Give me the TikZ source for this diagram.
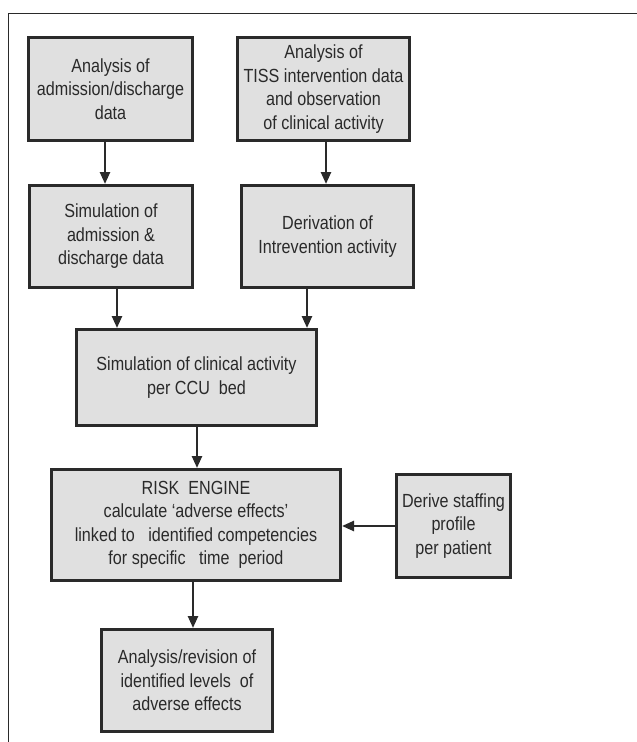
\documentclass[tikz,border=0pt]{standalone}
\usepackage{fontspec}
\setmainfont{Liberation Sans}[FakeStretch=0.85]
\usepackage{xcolor}
\usepackage{tikz}
\usetikzlibrary{arrows.meta}

\definecolor{boxgray}{HTML}{E0E0E0}
\definecolor{inkgray}{HTML}{2A2A2A}

\begin{document}
\begin{tikzpicture}[
  x=1pt, y=-1pt,
  box/.style={rectangle, draw=inkgray, line width=3pt, fill=boxgray,
              text=inkgray, align=center, inner sep=0pt,
              font=\fontsize{19}{23.5}\selectfont},
  arrow/.style={-{Triangle[length=12pt, width=10pt]}, line width=2.5pt, draw=inkgray},
]
\useasboundingbox (0,0) rectangle (637,742);

% Frame
\draw[line width=1.5pt, inkgray] (8.5,742) -- (8.5,13.5) -- (637,13.5);

% Input boxes
\node[box, minimum width=164pt, minimum height=103pt] (admit) at (110.5,89)
  {Analysis of\\admission/discharge\\data};
\node[box, minimum width=172pt, minimum height=103pt] (tiss) at (323.5,89)
  {Analysis of\\TISS intervention data\\and observation\\of clinical activity};

% Simulation / derivation boxes
\node[box, minimum width=163pt, minimum height=102pt] (simadmit) at (111,236.5)
  {Simulation of\\admission \&\\discharge data};
\node[box, minimum width=172pt, minimum height=102pt] (derive) at (327.5,236.5)
  {Derivation of\\Intrevention activity};
\node[box, minimum width=240pt, minimum height=96pt] (simbed) at (196.5,377.5)
  {Simulation of clinical activity\\per CCU\ \ bed};

% Risk engine and staffing profile
\node[box, minimum width=289pt, minimum height=111pt] (risk) at (196,525)
  {RISK\ \ ENGINE\\calculate `adverse effects'\\linked to\ \ \ identified competencies\\for specific\ \ \ time\ \ period};
\node[box, minimum width=114pt, minimum height=103pt] (staff) at (453.5,526)
  {Derive staffing\\profile\\per patient};

% Output
\node[box, minimum width=171pt, minimum height=102pt] (revise) at (187,680.5)
  {Analysis/revision of\\identified levels\ \ of\\adverse effects};

% Arrows
\draw[arrow] ([xshift=-5.5pt]admit.south) -- ([xshift=-6pt]simadmit.north);
\draw[arrow] ([xshift=2.5pt]tiss.south) -- ([xshift=-1.5pt]derive.north);
\draw[arrow] ([xshift=6pt]simadmit.south) -- ([xshift=-79.5pt]simbed.north);
\draw[arrow] ([xshift=-20.5pt]derive.south) -- ([xshift=110.5pt]simbed.north);
\draw[arrow] ([xshift=0.5pt]simbed.south) -- ([xshift=1pt]risk.north);
\draw[arrow] (staff.west) -- (staff.west -| risk.east);
\draw[arrow] ([xshift=-3pt]risk.south) -- ([xshift=6pt]revise.north);

\end{tikzpicture}
\end{document}
